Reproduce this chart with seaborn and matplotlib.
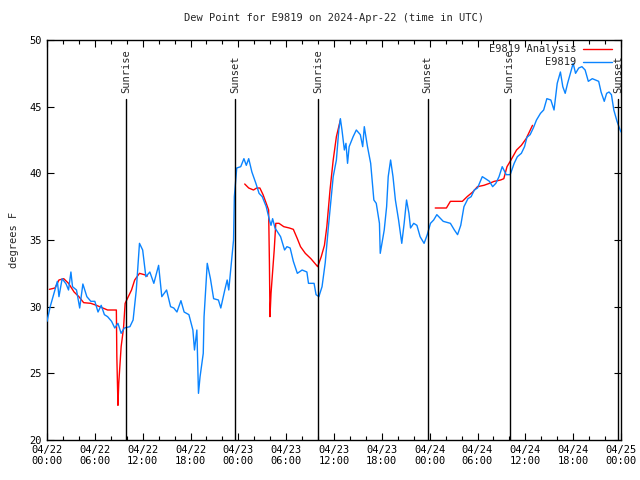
#!/usr/bin/env python3
"""Dew point time series for station E9819, observations vs analysis, with sunrise/sunset markers."""

import matplotlib

matplotlib.use("Agg")
import matplotlib.dates as mdates
import matplotlib.pyplot as plt
import numpy as np
import pandas as pd
import seaborn as sns

START = pd.Timestamp("2024-04-22 00:00")

# observations: hours since 04/22 00:00 UTC, dew point (F)
obs_hours = [
    0.0, 0.4, 1.0, 1.3, 1.5, 1.9, 2.4, 2.7, 3.0, 3.2, 3.7, 4.1, 4.5, 5.0, 5.5, 6.0,
    6.4, 6.8, 7.2, 7.6, 8.1, 8.5, 8.9, 9.3, 9.7, 10.4, 10.8, 11.2, 11.6, 12.0, 12.4, 12.9,
    13.4, 14.0, 14.4, 15.0, 15.5, 15.9, 16.3, 16.8, 17.2, 17.8, 18.3, 18.5, 18.8, 19.0, 19.2, 19.6,
    19.7, 20.1, 20.5, 20.9, 21.5, 21.8, 22.3, 22.6, 22.8, 23.2, 23.4, 23.5, 23.8, 24.3, 24.7, 25.0,
    25.3, 25.7, 26.2, 26.6, 27.0, 27.5, 27.9, 28.1, 28.3, 28.6, 29.3, 29.8, 30.1, 30.5, 30.9, 31.4,
    32.0, 32.6, 32.8, 33.5, 33.75, 34.1, 34.5, 34.9, 35.3, 35.7, 35.9, 36.3, 36.6, 36.8, 37.0, 37.3,
    37.5, 37.7, 37.9, 38.4, 38.8, 39.3, 39.6, 39.8, 40.2, 40.6, 41.0, 41.3, 41.7, 41.8, 42.3, 42.6,
    42.8, 43.1, 43.4, 43.7, 44.1, 44.5, 44.8, 45.1, 45.4, 45.6, 46.0, 46.4, 46.8, 47.3, 47.7, 48.1,
    48.5, 48.9, 49.7, 50.6, 51.1, 51.5, 51.9, 52.3, 52.8, 53.2, 53.6, 54.0, 54.6, 55.0, 55.5, 55.9,
    56.3, 56.7, 57.1, 57.6, 58.1, 58.6, 59.0, 59.5, 59.9, 60.2, 60.6, 61.0, 61.4, 61.9, 62.3, 62.7,
    63.2, 63.6, 64.0, 64.4, 64.7, 65.0, 65.3, 65.7, 66.0, 66.3, 66.7, 67.1, 67.5, 67.9, 68.4, 68.8,
    69.2, 69.5, 69.9, 70.2, 70.5, 70.8, 71.1, 71.5, 71.8, 72.0,
]
obs_dewpoint = [
    28.9, 30.0, 31.25, 31.9, 30.75, 32.1, 31.7, 31.25, 32.6, 31.5, 31.25, 29.9, 31.7, 30.75, 30.4, 30.4,
    29.6, 30.1, 29.4, 29.25, 28.9, 28.4, 28.75, 28.0, 28.4, 28.5, 29.0, 31.25, 34.75, 34.25, 32.25, 32.6,
    31.75, 33.1, 30.75, 31.25, 30.0, 29.9, 29.6, 30.45, 29.6, 29.4, 28.25, 26.75, 28.25, 23.5, 24.75, 26.5,
    29.25, 33.25, 32.1, 30.6, 30.5, 29.9, 31.25, 32.0, 31.25, 33.75, 35.0, 38.25, 40.4, 40.5, 41.1, 40.6,
    41.1, 40.1, 39.25, 38.5, 38.25, 37.5, 36.5, 36.1, 36.6, 35.9, 35.25, 34.25, 34.5, 34.4, 33.4, 32.5,
    32.75, 32.6, 31.75, 31.75, 30.9, 30.75, 31.5, 33.3, 36.0, 38.5, 39.75, 41.0, 43.25, 44.1, 43.25, 41.75,
    42.25, 40.75, 42.0, 42.75, 43.25, 42.9, 42.0, 43.5, 42.0, 40.75, 38.0, 37.75, 36.25, 34.0, 35.75, 37.5,
    39.75, 41.0, 39.75, 38.0, 36.5, 34.75, 36.25, 38.0, 37.0, 35.9, 36.25, 36.1, 35.25, 34.75, 35.4, 36.25,
    36.5, 36.9, 36.4, 36.25, 35.75, 35.4, 36.1, 37.5, 38.1, 38.25, 38.75, 38.9, 39.75, 39.6, 39.4, 39.0,
    39.25, 39.75, 40.5, 39.9, 39.9, 40.75, 41.25, 41.5, 42.0, 42.7, 42.9, 43.4, 44.0, 44.5, 44.75, 45.6,
    45.5, 44.75, 46.75, 47.6, 46.5, 46.0, 46.75, 47.6, 48.25, 47.5, 47.9, 48.0, 47.75, 46.9, 47.1, 47.0,
    46.9, 46.1, 45.4, 46.0, 46.1, 45.9, 44.75, 43.9, 43.4, 43.1,
]

# analysis: NaN marks the gaps between the three segments
ana_hours = [
    0.3, 1.0, 1.5, 2.1, 2.7, 3.4, 4.0, 4.6, 5.5, 6.2, 7.0, 7.6, 8.7, 8.76, 8.9, 9.0,
    9.3, 9.6, 9.8, 10.2, 10.6, 11.0, 11.6, 12.2, 12.6,
    18.0,
    24.8, 25.3, 25.9, 26.3, 26.7, 27.1, 27.5, 27.8, 27.9, 27.97, 28.1, 28.5, 28.7, 29.1, 29.7, 30.4,
    30.9, 31.4, 31.8, 32.4, 33.1, 33.6, 33.95, 34.4, 34.8, 35.1, 35.5, 35.9, 36.3, 36.8,
    42.0,
    48.7, 50.1, 50.6, 52.1, 52.7, 53.4, 54.0, 54.8, 55.5, 56.1, 56.9, 57.3, 57.7, 58.2, 58.9, 59.5,
    60.1, 60.9,
]
ana_dewpoint = [
    31.3, 31.4, 32.0, 32.1, 31.75, 31.1, 30.75, 30.3, 30.25, 30.1, 29.9, 29.75, 29.75, 26.25, 22.6, 24.25,
    27.0, 28.4, 30.25, 30.75, 31.25, 32.0, 32.5, 32.4, 32.3,
    np.nan,
    39.2, 38.9, 38.75, 38.9, 38.9, 38.4, 37.75, 37.25, 33.25, 29.25, 31.0, 34.25, 36.25, 36.25, 36.0, 35.9,
    35.8, 35.1, 34.5, 34.0, 33.6, 33.25, 33.0, 33.75, 34.6, 36.0, 38.75, 41.0, 42.75, 44.0,
    np.nan,
    37.4, 37.4, 37.9, 37.9, 38.25, 38.6, 39.0, 39.1, 39.25, 39.4, 39.5, 39.6, 40.5, 41.0, 41.75, 42.1,
    42.6, 43.6,
]

sun_labels = ["Sunrise", "Sunset", "Sunrise", "Sunset", "Sunrise", "Sunset"]
sun_hours = [9.92, 23.62, 34.05, 47.74, 58.04, 71.6]


def to_time(hours):
    return START + pd.to_timedelta(hours, unit="h")


def main() -> None:
    sns.set_theme(style="ticks")
    plt.rcParams["font.family"] = ["DejaVu Sans Mono"]
    plt.rcParams["axes.edgecolor"] = "black"
    plt.rcParams["xtick.color"] = "black"
    plt.rcParams["ytick.color"] = "black"

    obs = pd.DataFrame({"time": to_time(obs_hours), "dewpoint": obs_dewpoint})
    ana = pd.DataFrame({"time": to_time(ana_hours), "dewpoint": ana_dewpoint})

    fig = plt.figure(figsize=(6.4, 4.8), dpi=100)
    ax = fig.add_axes([47 / 640, 40 / 480, 574 / 640, 400 / 480])

    ax.plot(obs["time"], obs["dewpoint"], color="#0a84ff", lw=1.0, label="E9819", zorder=3)
    ax.plot(ana["time"], ana["dewpoint"], color="#ff0000", lw=1.0, label="E9819 Analysis", zorder=2)

    for label, h in zip(sun_labels, sun_hours):
        t = to_time(h)
        ax.axvline(t, ymin=0, ymax=(45.6 - 20) / 30, color="black", lw=1.0, zorder=4)
        ax.text(t, 46.0, label, rotation=90, ha="center", va="bottom", fontsize=7.5, zorder=5)

    ax.set_xlim(START, START + pd.Timedelta(hours=72))
    ax.set_ylim(20, 50)
    ax.set_yticks(range(20, 51, 5))
    ax.xaxis.set_major_locator(mdates.HourLocator(byhour=[0, 6, 12, 18]))
    ax.xaxis.set_minor_locator(mdates.HourLocator(interval=2))
    ax.xaxis.set_major_formatter(mdates.DateFormatter("%m/%d\n%H:%M"))
    ax.tick_params(axis="both", which="both", direction="in", top=True, right=True,
                   labelsize=7.5, width=0.8)
    ax.tick_params(axis="both", which="major", length=5)
    ax.tick_params(axis="x", which="minor", length=3)
    for spine in ax.spines.values():
        spine.set_linewidth(1.0)

    ax.set_xlabel("")
    ax.set_ylabel("degrees F", fontsize=7.5, labelpad=8)
    ax.set_title("Dew Point for E9819 on 2024-Apr-22 (time in UTC)", fontsize=7.5, pad=14)

    handles, labels = ax.get_legend_handles_labels()
    order = [1, 0]
    ax.legend([handles[i] for i in order], [labels[i] for i in order],
              loc="upper right", bbox_to_anchor=(0.995, 1.005), frameon=False,
              markerfirst=False, fontsize=7.5, handlelength=2.8, handletextpad=0.6,
              labelspacing=0.3, borderaxespad=0.2)

    fig.savefig("out.png", dpi=100)
    plt.close(fig)


if __name__ == "__main__":
    main()
